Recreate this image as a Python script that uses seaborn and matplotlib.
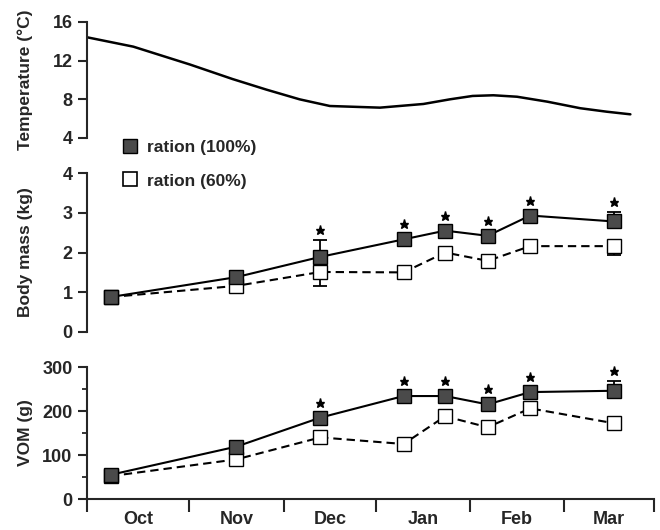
import matplotlib
matplotlib.use("Agg")
import matplotlib.pyplot as plt
import matplotlib.transforms as mtransforms
from matplotlib.lines import Line2D
import seaborn as sns

# data (x in month units, 0 = 1 Oct)
months = ["Oct", "Nov", "Dec", "Jan", "Feb", "Mar"]
month_edges = [0, 1.08, 2.085, 3.06, 4.05, 5.05, 6.0]

temp_x = [0.0, 0.49, 1.09, 1.54, 1.90, 2.25, 2.57, 3.10, 3.56, 3.84, 4.08, 4.30, 4.55, 4.87, 5.22, 5.50, 5.75]
temp_c = [14.42, 13.45, 11.6, 10.1, 9.0, 8.0, 7.31, 7.14, 7.52, 8.0, 8.35, 8.42, 8.27, 7.76, 7.08, 6.72, 6.45]

sample_x = [0.25, 1.58, 2.47, 3.35, 3.79, 4.24, 4.69, 5.58]
mass_100 = [0.88, 1.38, 1.89, 2.33, 2.55, 2.42, 2.93, 2.78]
mass_60 = [0.88, 1.16, 1.51, 1.50, 2.00, 1.79, 2.16, 2.16]
mass_100_err = [0, 0, 0.42, 0, 0, 0, 0, 0.24]
mass_60_err = [0, 0, 0.35, 0, 0, 0, 0, 0.23]
vom_100 = [55, 119, 185, 234, 234, 215, 243, 246]
vom_60 = [52, 90, 140, 125, 188, 163, 206, 172]
vom_100_err = [0, 0, 0, 0, 0, 0, 0, 22]
vom_60_err = [0, 0, 0, 0, 0, 0, 0, 13]
signif = [False, False, True, True, True, True, True, True]

sns.set_style("ticks")
plt.rcParams["font.family"] = ["Liberation Sans", "DejaVu Sans"]
plt.rcParams["font.weight"] = "bold"
plt.rcParams["axes.labelweight"] = "bold"
plt.rcParams["axes.linewidth"] = 1.5

FS = 12.5
TFS = 13
GREY = "#4a4a4a"
DASH = (0, (4, 2.4))

fig = plt.figure(figsize=(6.6, 5.3), dpi=100)
L, W = 87 / 660, (654 - 87) / 660
ax_t = fig.add_axes([L, 1 - 138 / 530, W, (138 - 22) / 530])
ax_b = fig.add_axes([L, 1 - 332 / 530, W, (332 - 173) / 530])
ax_v = fig.add_axes([L, 1 - 499 / 530, W, (499 - 367) / 530])

# temperature
sns.lineplot(x=temp_x, y=temp_c, ax=ax_t, color="black", linewidth=1.8)
ax_t.set_ylim(4, 16)
ax_t.set_yticks([4, 8, 12, 16])
ax_t.set_ylabel("Temperature (°C)", fontsize=FS)


def panel(ax, y100, y60, e100, e60):
    zeros = [0] * len(e100)
    ax.errorbar(sample_x, y100, yerr=[zeros, e100], fmt="none", ecolor="black",
                elinewidth=1.3, capsize=5, capthick=1.3, zorder=2)
    ax.errorbar(sample_x, y60, yerr=[e60, zeros], fmt="none", ecolor="black",
                elinewidth=1.3, capsize=5, capthick=1.3, zorder=2)
    sns.lineplot(x=sample_x, y=y60, ax=ax, color="black", linewidth=1.5, linestyle=DASH,
                 marker="s", markersize=9.5, markerfacecolor="white",
                 markeredgecolor="black", markeredgewidth=1.0, zorder=3)
    sns.lineplot(x=sample_x, y=y100, ax=ax, color="black", linewidth=1.5,
                 marker="s", markersize=9.5, markerfacecolor=GREY,
                 markeredgecolor="black", markeredgewidth=1.0, zorder=4)
    # significance stars above the 100% ration
    for xi, yi, ei, s in zip(sample_x, y100, e100, signif):
        if not s:
            continue
        off = 7.5 if ei > 0 else 10.8
        tr = mtransforms.offset_copy(ax.transData, fig=fig, y=off, units="points")
        ax.plot([xi], [yi + ei], marker="*", color="black", markersize=6.5,
                linestyle="none", transform=tr, clip_on=False)


panel(ax_b, mass_100, mass_60, mass_100_err, mass_60_err)
ax_b.set_ylim(0, 4)
ax_b.set_yticks([0, 1, 2, 3, 4])
ax_b.set_ylabel("Body mass (kg)", fontsize=FS)

panel(ax_v, vom_100, vom_60, vom_100_err, vom_60_err)
ax_v.set_ylim(0, 300)
ax_v.set_yticks([0, 100, 200, 300])
ax_v.set_yticks([50, 150, 250], minor=True)
ax_v.set_ylabel("VOM (g)", fontsize=FS)

for ax in (ax_t, ax_b, ax_v):
    ax.set_xlim(month_edges[0], month_edges[-1])
    ax.spines["top"].set_visible(False)
    ax.spines["right"].set_visible(False)
    ax.tick_params(axis="y", which="major", length=6.5, width=1.5, pad=4, labelsize=TFS)
    ax.tick_params(axis="y", which="minor", length=3.5, width=1.3)
    ax.yaxis.set_label_coords(-0.095, 0.5)
    for lab in ax.get_yticklabels():
        lab.set_fontweight("bold")

for ax in (ax_t, ax_b):
    ax.spines["bottom"].set_visible(False)
    ax.set_xticks([])

mids = [(a + b) / 2 for a, b in zip(month_edges[:-1], month_edges[1:])]
ax_v.set_xticks(month_edges)
ax_v.set_xticklabels([])
ax_v.set_xticks(mids, minor=True)
ax_v.set_xticklabels(months, minor=True, fontsize=TFS, fontweight="bold")
ax_v.tick_params(axis="x", which="major", length=9.5, width=1.5)
ax_v.tick_params(axis="x", which="minor", length=0, pad=9)

handles = [
    Line2D([], [], marker="s", linestyle="none", markersize=10, markerfacecolor=GREY,
           markeredgecolor="black", markeredgewidth=1.0),
    Line2D([], [], marker="s", linestyle="none", markersize=10, markerfacecolor="white",
           markeredgecolor="black", markeredgewidth=1.2),
]
fig.legend(handles, ["ration (100%)", "ration (60%)"], loc="upper left",
           bbox_to_anchor=(121 / 660, 1 - 140 / 530), frameon=False,
           prop={"size": FS, "weight": "bold"}, handlelength=1.0,
           handletextpad=0.5, labelspacing=1.05, borderpad=0, borderaxespad=0)

fig.savefig("out.png", dpi=100)
